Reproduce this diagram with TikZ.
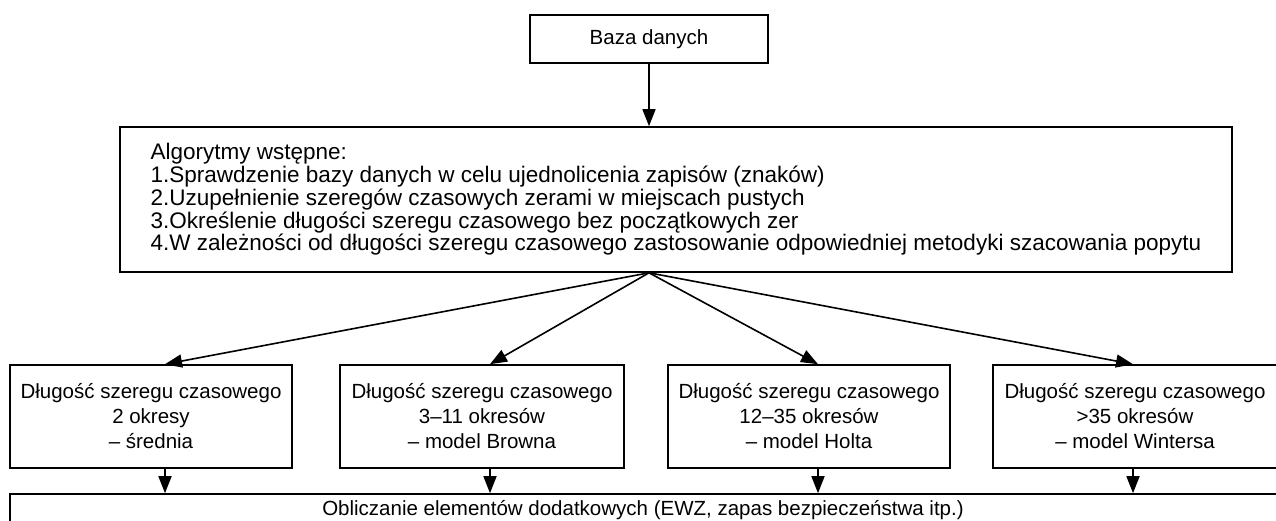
\documentclass[tikz,border=0pt]{standalone}
\usepackage{fontspec}
\setmainfont{Liberation Sans}
\usetikzlibrary{arrows.meta}
\begin{document}
\begin{tikzpicture}[x=1pt,y=1pt,
  box/.style={draw=black, line width=1.6pt, fill=white, inner sep=0pt,
    font=\fontsize{20.5}{25}\selectfont, align=center},
  arr/.style={line width=1.6pt, -{Triangle[length=17pt,width=13pt]}},
]
\useasboundingbox (0,0) rectangle (1276,-520);
\fill[white] (0,0) rectangle (1276,-520);
\clip (0,0) rectangle (1276,-520);

\node[box, minimum width=238, minimum height=48] (db) at (649,-39) {Baza danych};

\node[box, minimum width=1112, minimum height=145, align=left,
  font=\fontsize{22.5}{22.7}\selectfont] (alg) at (676,-199.5)
{Algorytmy wstępne:\\
1.Sprawdzenie bazy danych w celu ujednolicenia zapisów (znaków)\\
2.Uzupełnienie szeregów czasowych zerami w miejscach pustych\\
3.Określenie długości szeregu czasowego bez początkowych zer\\
4.W zależności od długości szeregu czasowego zastosowanie odpowiedniej metodyki szacowania popytu};

\node[box, minimum width=282, minimum height=103] (b1) at (151,-416.5)
{Długość szeregu czasowego\\2 okresy\\– średnia};
\node[box, minimum width=284, minimum height=103] (b2) at (482,-416.5)
{Długość szeregu czasowego\\3–11 okresów\\– model Browna};
\node[box, minimum width=282, minimum height=103] (b3) at (809,-416.5)
{Długość szeregu czasowego\\12–35 okresów\\– model Holta};
\node[box, minimum width=284, minimum height=103] (b4) at (1135,-416.5)
{Długość szeregu czasowego\\>35 okresów\\– model Wintersa};

\node[box, minimum width=1280, minimum height=32] (calc) at (650,-510)
{Obliczanie elementów dodatkowych (EWZ, zapas bezpieczeństwa itp.)\hspace{14pt}};

\coordinate (apex) at (alg.south -| db.south);
\draw[arr] (db.south) -- (db.south |- alg.north);
\draw[arr] (apex) -- ([xshift=14pt]b1.north);
\draw[arr] (apex) -- ([xshift=8pt]b2.north);
\draw[arr] (apex) -- ([xshift=9pt]b3.north);
\draw[arr] (apex) -- ([xshift=-2pt]b4.north);
\draw[arr] ([xshift=14pt]b1.south) -- ([xshift=14pt]b1.south |- calc.north);
\draw[arr] ([xshift=8pt]b2.south) -- ([xshift=8pt]b2.south |- calc.north);
\draw[arr] ([xshift=9pt]b3.south) -- ([xshift=9pt]b3.south |- calc.north);
\draw[arr] ([xshift=-2pt]b4.south) -- ([xshift=-2pt]b4.south |- calc.north);
\end{tikzpicture}
\end{document}
